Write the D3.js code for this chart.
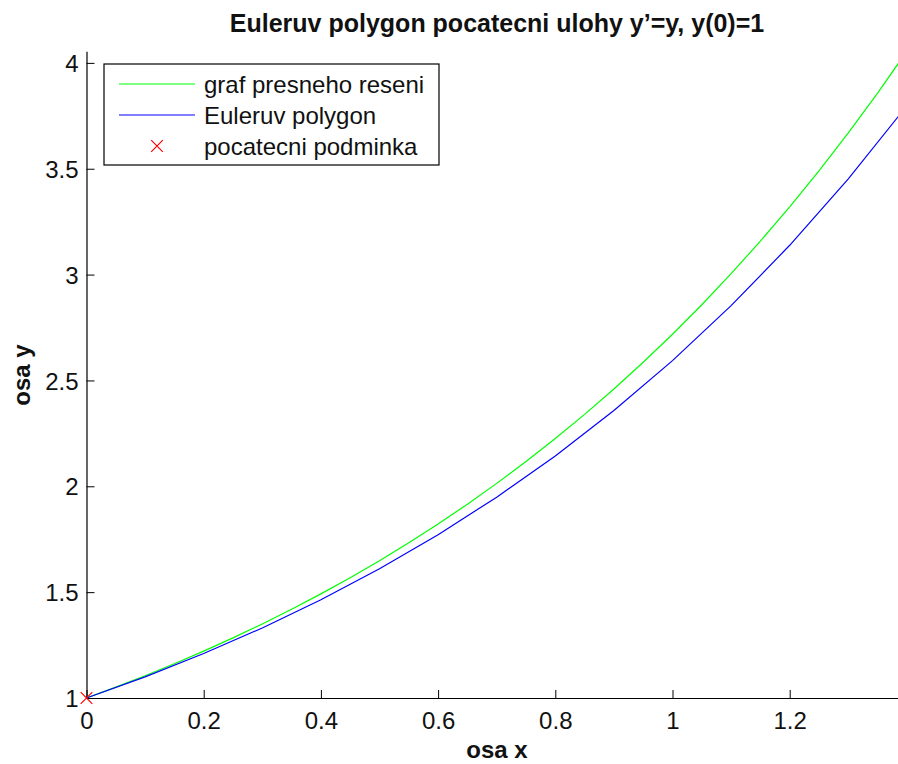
<!DOCTYPE html>
<html>
<head>
<meta charset="utf-8">
<script src="https://cdn.jsdelivr.net/npm/d3@7"></script>
<style>
  body { margin: 0; background: #fff; }
  svg { display: block; font-family: "Liberation Sans", Arial, sans-serif; }
</style>
</head>
<body>
<div id="chart"></div>
<script>
// exact solution y = e^x
const exactX = [0, 0.05, 0.1, 0.15, 0.2, 0.25, 0.3, 0.35, 0.4, 0.45, 0.5, 0.55, 0.6, 0.65, 0.7,
  0.75, 0.8, 0.85, 0.9, 0.95, 1.0, 1.05, 1.1, 1.15, 1.2, 1.25, 1.3, 1.35, 1.4];
const exactY = [1, 1.0513, 1.1052, 1.1618, 1.2214, 1.284, 1.3499, 1.4191, 1.4918, 1.5683, 1.6487,
  1.7333, 1.8221, 1.9155, 2.0138, 2.117, 2.2255, 2.3396, 2.4596, 2.5857, 2.7183, 2.8577, 3.0042,
  3.1582, 3.3201, 3.4903, 3.6693, 3.8574, 4.0552];

// Euler polygon nodes (blue)
const eulerX = [0, 0.1, 0.2, 0.3, 0.4, 0.5, 0.6, 0.7, 0.8, 0.9, 1.0, 1.1, 1.2, 1.3, 1.4];
const eulerY = [1, 1.1, 1.21, 1.331, 1.4641, 1.6105, 1.7716, 1.9487, 2.1436, 2.3579, 2.5937,
  2.8531, 3.1384, 3.4523, 3.7975];

const initX = [0];
const initY = [1];

const xTicks = [0, 0.2, 0.4, 0.6, 0.8, 1, 1.2];
const yTicks = [1, 1.5, 2, 2.5, 3, 3.5, 4];

const W = 898, H = 764;
const mLeft = 86.5, mBottom = 698, mTop = 51.2;
const xScale = d3.scaleLinear().domain([0, 1.4]).range([mLeft, mLeft + 1.4 * 586]);
const yScale = d3.scaleLinear().domain([1, 4.0552]).range([mBottom, mTop]);

const svg = d3.select('#chart').append('svg')
  .attr('width', W)
  .attr('height', H);

const fmt = d => String(d);

// x axis, ticks pointing inwards
const gx = svg.append('g')
  .attr('transform', `translate(0,${mBottom})`)
  .call(d3.axisBottom(xScale).tickValues(xTicks).tickFormat(fmt).tickSizeInner(-8).tickSizeOuter(0).tickPadding(14));
const gy = svg.append('g')
  .attr('transform', `translate(${mLeft},0)`)
  .call(d3.axisLeft(yScale).tickValues(yTicks).tickFormat(fmt).tickSizeInner(-8).tickSizeOuter(0).tickPadding(8));

[gx, gy].forEach(g => {
  g.select('.domain').attr('stroke', '#000').attr('stroke-width', 1.2);
  g.selectAll('.tick line').attr('stroke', '#000');
  g.selectAll('.tick text').attr('fill', '#111').style('font-size', '24px')
    .style('font-family', '"Liberation Sans", Arial, sans-serif');
});
gy.selectAll('.tick text').attr('dy', '0.36em');
gx.selectAll('.tick text').attr('dy', '0.71em');

const line = d3.line().x(d => xScale(d[0])).y(d => yScale(d[1]));

svg.append('path')
  .datum(exactX.map((x, i) => [x, exactY[i]]))
  .attr('d', line)
  .attr('fill', 'none')
  .attr('stroke', '#00ff00')
  .attr('stroke-width', 1.2);

svg.append('path')
  .datum(eulerX.map((x, i) => [x, eulerY[i]]))
  .attr('d', line)
  .attr('fill', 'none')
  .attr('stroke', '#0000ff')
  .attr('stroke-width', 1.2);

const cross = d3.symbol().type(d3.symbolX).size(90);
svg.selectAll('.init')
  .data(initX.map((x, i) => [x, initY[i]]))
  .enter().append('path')
  .attr('class', 'init')
  .attr('d', cross)
  .attr('transform', d => `translate(${xScale(d[0])},${yScale(d[1])})`)
  .attr('fill', 'none')
  .attr('stroke', '#ff0000')
  .attr('stroke-width', 1.2);

// title and labels
svg.append('text')
  .attr('x', 497)
  .attr('y', 32)
  .attr('text-anchor', 'middle')
  .style('font-size', '25px')
  .style('font-weight', 'bold')
  .attr('fill', '#111')
  .text('Euleruv polygon pocatecni ulohy y’=y, y(0)=1');

svg.append('text')
  .attr('x', 497)
  .attr('y', 758)
  .attr('text-anchor', 'middle')
  .style('font-size', '24px')
  .style('font-weight', 'bold')
  .attr('fill', '#111')
  .text('osa x');

svg.append('text')
  .attr('transform', 'translate(30,375) rotate(-90)')
  .attr('text-anchor', 'middle')
  .style('font-size', '24px')
  .style('font-weight', 'bold')
  .attr('fill', '#111')
  .text('osa y');

// legend
const legend = svg.append('g');
legend.append('rect')
  .attr('x', 104).attr('y', 64)
  .attr('width', 335).attr('height', 101)
  .attr('fill', '#fff')
  .attr('stroke', '#000')
  .attr('stroke-width', 1.2);

const items = [
  { label: 'graf presneho reseni', color: '#00ff00', kind: 'line' },
  { label: 'Euleruv polygon', color: '#0000ff', kind: 'line' },
  { label: 'pocatecni podminka', color: '#ff0000', kind: 'mark' }
];
items.forEach((it, i) => {
  const cy = 84 + i * 31;
  if (it.kind === 'line') {
    legend.append('line')
      .attr('x1', 119).attr('x2', 195)
      .attr('y1', cy).attr('y2', cy)
      .attr('stroke', it.color).attr('stroke-width', 1.2);
  } else {
    legend.append('path')
      .attr('d', cross)
      .attr('transform', `translate(157,${cy})`)
      .attr('fill', 'none')
      .attr('stroke', it.color).attr('stroke-width', 1.2);
  }
  legend.append('text')
    .attr('x', 204).attr('y', cy)
    .attr('dy', '0.36em')
    .style('font-size', '24px')
    .attr('fill', '#111')
    .text(it.label);
});
</script>
</body>
</html>
